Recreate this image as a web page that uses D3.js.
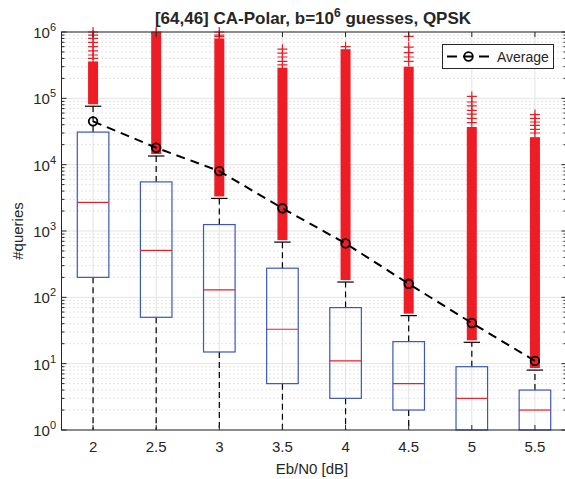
<!DOCTYPE html>
<html>
<head>
<meta charset="utf-8">
<script src="https://cdn.jsdelivr.net/npm/d3@7"></script>
<style>
  body { margin: 0; background: #fff; }
  text { font-family: "Liberation Sans", Arial, sans-serif; fill: #262626; }
</style>
</head>
<body>
<div id="chart"></div>
<script>
// data
var categories = ["2", "2.5", "3", "3.5", "4", "4.5", "5", "5.5"];
var q1 = [200, 50, 15, 5, 3, 2, 1, 1];
var medians = [2700, 510, 130, 33, 11, 5, 3, 2];
var q3 = [31000, 5500, 1250, 275, 70, 21.5, 9, 4];
var whiskerLow = [1, 1, 1, 1, 1, 1, 1, 1];
var whiskerHigh = [76000, 13500, 3100, 680, 170, 53, 21, 8];
var means = [45000, 18000, 8000, 2200, 650, 160, 41, 11];
// dense outlier runs (from just above the whisker up to this value)
var outlierDenseTop = [360000, 1000000, 800000, 290000, 550000, 300000, 37000, 26000];
// separate outliers above the dense runs
var outliersSparse = [
  [1000000, 900000, 800000, 700000, 600000, 520000, 450000, 400000],
  [1000000, 950000],
  [1000000, 900000, 850000],
  [550000, 480000, 420000, 360000, 320000],
  [600000],
  [860000, 590000, 490000, 420000, 360000],
  [107000, 88000, 77000, 66000, 58000, 50000, 43000],
  [57000, 50000, 44000, 39000, 34000, 30000]
];
var yTickExp = [0, 1, 2, 3, 4, 5, 6];

var W = 565, H = 479;
var pL = 61.5, pR = 566.5, pT = 32, pB = 430;
var red = "#ee1c24", blue = "#3b57b8", dark = "#262626";

var svg = d3.select("#chart").append("svg")
  .attr("width", W)
  .attr("height", H);

var x = d3.scalePoint()
  .domain(categories)
  .range([pL, pR])
  .padding(0.5);
var y = d3.scaleLog()
  .domain([1, 1e6])
  .range([pB, pT]);
var step = x.step();
var boxHalf = step * 0.25;
var capHalf = step * 0.13;

// minor grid
var minor = [];
yTickExp.slice(0, -1).forEach(e => {
  for (var k = 2; k <= 9; k++) minor.push(k * Math.pow(10, e));
});
svg.append("g").selectAll("line")
  .data(minor)
  .enter()
  .append("line")
  .attr("x1", pL).attr("x2", pR)
  .attr("y1", d => y(d)).attr("y2", d => y(d))
  .style("stroke", "#c8c8c8")
  .style("stroke-width", 1)
  .style("stroke-dasharray", "1,3");

// major grid
var grid = svg.append("g");
grid.selectAll("line.h")
  .data(yTickExp)
  .enter()
  .append("line")
  .attr("class", "h")
  .attr("x1", pL).attr("x2", pR)
  .attr("y1", d => y(Math.pow(10, d))).attr("y2", d => y(Math.pow(10, d)))
  .style("stroke", "#e3e3e3")
  .style("stroke-width", 1);
grid.selectAll("line.v")
  .data(categories)
  .enter()
  .append("line")
  .attr("class", "v")
  .attr("x1", d => x(d)).attr("x2", d => x(d))
  .attr("y1", pT).attr("y2", pB)
  .style("stroke", "#e3e3e3")
  .style("stroke-width", 1);

// boxes
var boxes = svg.append("g").selectAll("g")
  .data(categories)
  .enter()
  .append("g");

// whiskers
boxes.append("line")
  .attr("x1", d => x(d)).attr("x2", d => x(d))
  .attr("y1", (d, i) => y(q3[i])).attr("y2", (d, i) => y(whiskerHigh[i]))
  .style("stroke", "#000").style("stroke-width", 1.2).style("stroke-dasharray", "6,4");
boxes.append("line")
  .attr("x1", d => x(d)).attr("x2", d => x(d))
  .attr("y1", (d, i) => y(q1[i])).attr("y2", (d, i) => y(whiskerLow[i]))
  .style("stroke", "#000").style("stroke-width", 1.2).style("stroke-dasharray", "6,4");
boxes.append("line")
  .attr("x1", d => x(d) - capHalf).attr("x2", d => x(d) + capHalf)
  .attr("y1", (d, i) => y(whiskerHigh[i])).attr("y2", (d, i) => y(whiskerHigh[i]))
  .style("stroke", "#000").style("stroke-width", 1.2);

// outliers: dense runs + single markers
boxes.append("rect")
  .attr("x", d => x(d) - 5)
  .attr("width", 10)
  .attr("y", (d, i) => y(outlierDenseTop[i]))
  .attr("height", (d, i) => y(whiskerHigh[i]) - 2 - y(outlierDenseTop[i]))
  .style("fill", red);
boxes.each(function(d, i) {
  var g = d3.select(this);
  var cx = x(d);
  outliersSparse[i].forEach(v => {
    g.append("path")
      .attr("d", "M" + (cx - 5) + "," + y(v) + "H" + (cx + 5) + "M" + cx + "," + (y(v) - 5) + "V" + (y(v) + 5))
      .style("stroke", red)
      .style("stroke-width", 1.2)
      .style("fill", "none");
  });
});

boxes.append("rect")
  .attr("x", d => x(d) - boxHalf)
  .attr("width", boxHalf * 2)
  .attr("y", (d, i) => y(q3[i]))
  .attr("height", (d, i) => y(q1[i]) - y(q3[i]))
  .style("fill", "none")
  .style("stroke", blue)
  .style("stroke-width", 1.2);
boxes.append("line")
  .attr("x1", d => x(d) - boxHalf).attr("x2", d => x(d) + boxHalf)
  .attr("y1", (d, i) => y(medians[i])).attr("y2", (d, i) => y(medians[i]))
  .style("stroke", red).style("stroke-width", 1.2);

// axes frame
var frame = svg.append("g");
frame.append("rect")
  .attr("x", pL).attr("y", pT)
  .attr("width", pR - pL).attr("height", pB - pT)
  .style("fill", "none").style("stroke", dark).style("stroke-width", 1);

// ticks (inward, both sides)
yTickExp.forEach(e => {
  var yy = y(Math.pow(10, e));
  frame.append("path").attr("d", "M" + pL + "," + yy + "h5M" + pR + "," + yy + "h-5")
    .style("stroke", dark);
});
minor.forEach(v => {
  frame.append("path").attr("d", "M" + pL + "," + y(v) + "h3M" + pR + "," + y(v) + "h-3")
    .style("stroke", dark);
});
categories.forEach(c => {
  frame.append("path").attr("d", "M" + x(c) + "," + pB + "v-5M" + x(c) + "," + pT + "v5")
    .style("stroke", dark);
});

// y tick labels
var ylab = svg.append("g").selectAll("text")
  .data(yTickExp)
  .enter()
  .append("text")
  .attr("x", 56)
  .attr("y", d => y(Math.pow(10, d)) + 6)
  .attr("text-anchor", "end")
  .style("font-size", "15px");
ylab.append("tspan").text("10");
ylab.append("tspan").attr("dy", -7).style("font-size", "11px").text(d => d);

// x tick labels
svg.append("g").selectAll("text")
  .data(categories)
  .enter()
  .append("text")
  .attr("x", d => x(d))
  .attr("y", 452)
  .attr("text-anchor", "middle")
  .style("font-size", "15px")
  .text(d => d);

// axis labels
svg.append("text")
  .attr("x", (pL + pR) / 2 - 2)
  .attr("y", 474)
  .attr("text-anchor", "middle")
  .style("font-size", "15px")
  .text("Eb/N0 [dB]");
svg.append("text")
  .attr("transform", "translate(23," + ((pT + pB) / 2) + ") rotate(-90)")
  .attr("text-anchor", "middle")
  .style("font-size", "15px")
  .text("#queries");

// title
var title = svg.append("text")
  .attr("x", 313)
  .attr("y", 24)
  .attr("text-anchor", "middle")
  .style("font-size", "17px")
  .style("font-weight", "bold");
title.append("tspan").text("[64,46] CA-Polar, b=10");
title.append("tspan").attr("dy", -7).style("font-size", "12px").text("6");
title.append("tspan").attr("dy", 7).text(" guesses, QPSK");

// average line
var line = d3.line()
  .x((d, i) => x(categories[i]))
  .y(d => y(d));
svg.append("path")
  .datum(means)
  .attr("d", line)
  .style("fill", "none")
  .style("stroke", "#000")
  .style("stroke-width", 2)
  .style("stroke-dasharray", "9,6");
svg.append("g").selectAll("circle")
  .data(means)
  .enter()
  .append("circle")
  .attr("cx", (d, i) => x(categories[i]))
  .attr("cy", d => y(d))
  .attr("r", 4.3)
  .style("fill", "none")
  .style("stroke", "#000")
  .style("stroke-width", 1.8);

// legend
var lg = svg.append("g");
lg.append("rect")
  .attr("x", 442.5).attr("y", 44.5)
  .attr("width", 111).attr("height", 24)
  .style("fill", "#fff").style("stroke", dark).style("stroke-width", 1);
lg.append("path")
  .attr("d", "M447,56.5h45")
  .style("stroke", "#000").style("stroke-width", 2).style("stroke-dasharray", "10,6");
lg.append("circle")
  .attr("cx", 468.5).attr("cy", 56.5).attr("r", 4.3)
  .style("fill", "none").style("stroke", "#000").style("stroke-width", 1.8);
lg.append("text")
  .attr("x", 497).attr("y", 61.5)
  .style("font-size", "14px")
  .text("Average");
</script>
</body>
</html>
